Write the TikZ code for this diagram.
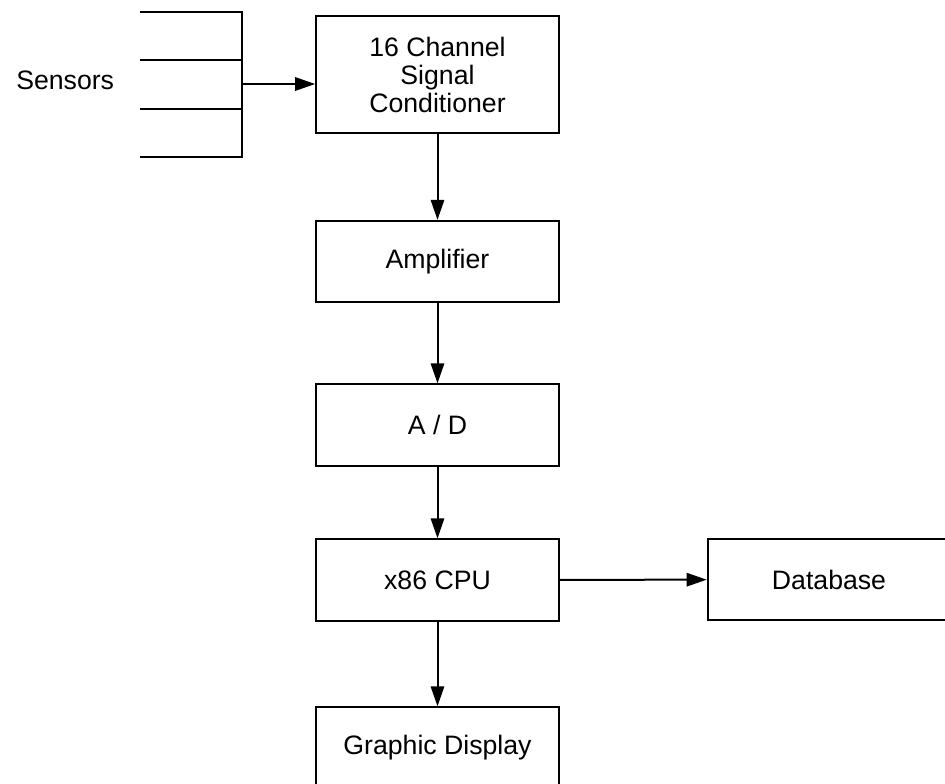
\documentclass[tikz,border=0pt]{standalone}
\usepackage{fontspec}
\setmainfont{Liberation Sans}
\usetikzlibrary{arrows.meta}

\begin{document}
\begin{tikzpicture}[x=0.75pt,y=0.75pt,yscale=-1,xscale=1,
  blk/.style={draw, line width=1.5pt, minimum width=182pt, minimum height=61pt, inner sep=0.75pt, align=center, font=\fontsize{20}{21}\selectfont},
  wire/.style={line width=1.5pt},
  flow/.style={line width=1.5pt, -{Triangle[length=15pt, width=10pt]}}]
\useasboundingbox (0,0) rectangle (945,783);

% blocks down the chain
\node [blk, minimum height=88pt] (cond) at (437.5,74.5) {16 Channel\\Signal\\Conditioner};
\node [blk] (amp) at (437.5,261.5) {Amplifier};
\node [blk] (adc) at (437.5,425) {A / D};
\node [blk] (cpu) at (437.5,580) {x86 CPU};
\node [blk] (db) at (829,579.5) {Database};
\node [blk] (disp) at (437.5,748) {Graphic Display};

% sensor inputs
\node [anchor=west, inner sep=0.75pt, font=\fontsize{20}{21}\selectfont] (sens) at (15,80) {Sensors};
\coordinate (in1) at (140,12);
\coordinate (in2) at (140,60);
\coordinate (in3) at (140,109);
\coordinate (in4) at (140,157);
\coordinate (tap) at (242,84);
\draw [wire] (in1) -- (in1 -| tap) -- (in4 -| tap) -- (in4);
\draw [wire] (in2) -- (in2 -| tap);
\draw [wire] (in3) -- (in3 -| tap);

% connectors
\draw [flow] (tap) -- (tap -| cond.west);
\draw [flow] (cond) -- (amp);
\draw [flow] (amp) -- (adc);
\draw [flow] (adc) -- (cpu);
\draw [flow] (cpu) -- (db);
\draw [flow] (cpu) -- (disp);

\end{tikzpicture}
\end{document}
